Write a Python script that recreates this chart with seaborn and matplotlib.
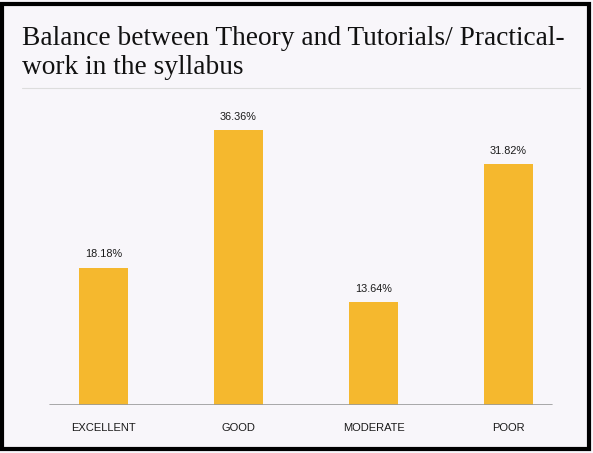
"""
Balance between theory and tutorials/practical-work bar chart
"""

import numpy as np
import matplotlib.pyplot as plt
import matplotlib.patches as mpatches
import pandas as pd
import seaborn as sns

sns.set_style("white")

# data
categories = ["EXCELLENT", "GOOD", "MODERATE", "POOR"]
percent = [18.18, 36.36, 13.64, 31.82]
labels = ["18.18%", "36.36%", "13.64%", "31.82%"]

df = pd.DataFrame({"category": categories, "percent": percent})

bg = "#f8f6fa"
bar_color = "#f5b82e"

fig = plt.figure(figsize=(5.93, 4.53), dpi=100)
fig.patch.set_facecolor(bg)

ax = fig.add_axes([36/593, 48/453, 540/593, 302.5/453])
ax.set_facecolor(bg)

sns.barplot(data=df, x="category", y="percent", color=bar_color,
            saturation=1, width=0.37, linewidth=0, edgecolor="none", ax=ax)

for i, (v, t) in enumerate(zip(percent, labels)):
    ax.text(i, v + 1.1, t, ha="center", va="bottom", fontsize=7.8,
            family="Liberation Sans", color="#1a1a1a")

ax.set_ylim(0, 40)
ax.set_xlim(-0.5, 3.5)
ax.axhline(0, xmin=0.025, xmax=0.955, color="#9a9a9a", lw=1.2)
for s in ax.spines.values():
    s.set_visible(False)
ax.set_yticks([])
ax.set_xlabel("")
ax.set_ylabel("")
ax.tick_params(axis="x", length=0, pad=13)
for lab in ax.get_xticklabels():
    lab.set_fontsize(8)
    lab.set_family("Liberation Sans")
    lab.set_color("#1a1a1a")

# title
fig.text(22/593, 1 - 26/453, "Balance between Theory and Tutorials/ Practical-\nwork in the syllabus",
         ha="left", va="top", fontsize=19.7, family="Liberation Serif",
         color="#111111", linespacing=1.22)

# faint chart frame line below title
fig.add_artist(plt.Line2D([22/593, 580/593], [1 - 88/453, 1 - 88/453],
                          color="#dddddd", lw=0.8))

# black scan border
fig.add_artist(mpatches.Rectangle((0.004, 0.008), 0.99, 0.984, fill=False,
                                  edgecolor="black", lw=3, transform=fig.transFigure))

plt.savefig("out.png", dpi=100, facecolor=bg)
